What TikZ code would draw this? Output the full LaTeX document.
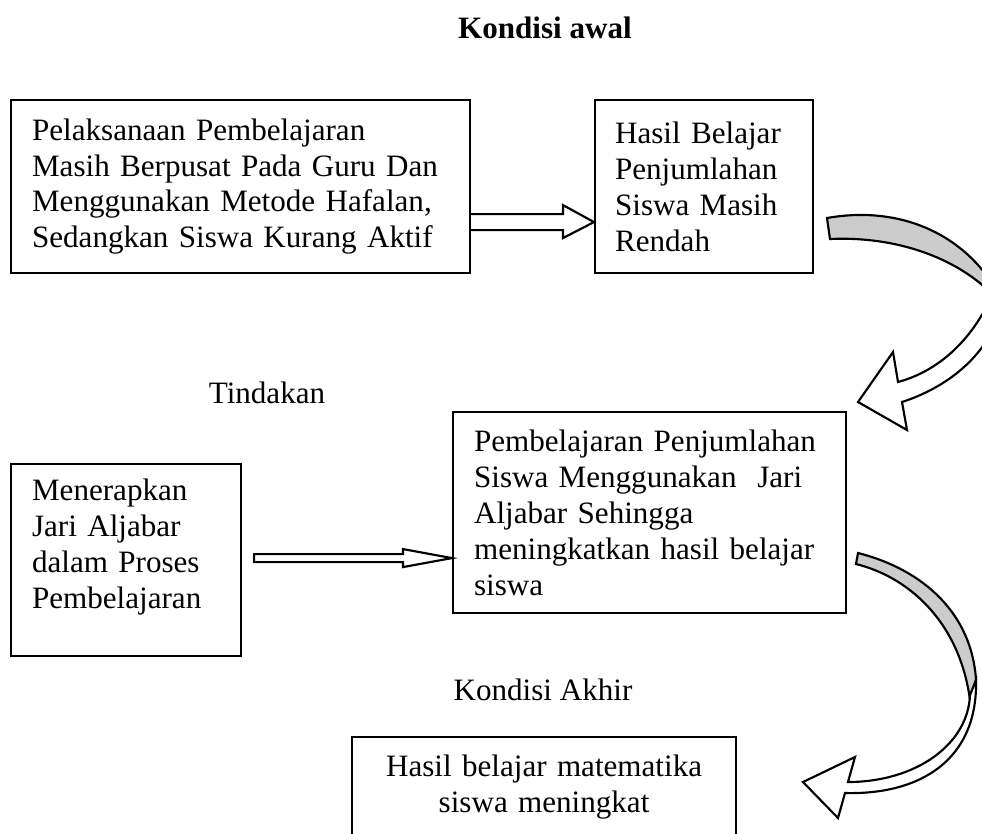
\documentclass[tikz,border=0pt]{standalone}
\usepackage{fontspec}
\setmainfont{Liberation Serif}
\usetikzlibrary{calc}
\usetikzlibrary{positioning}
\hyphenpenalty=10000
\newdimen\px
\px=0.3731pt
\tikzset{
  box/.style={draw, line width=0.8pt, anchor=north west, align=left,
    inner xsep=21\px, inner ysep=0pt,
    font=\fontsize{11.6pt}{13.4pt}\selectfont},
  heading/.style={font=\fontsize{11.6pt}{13.4pt}\selectfont},
  blockarrow/.style={draw, line width=0.8pt, fill=white, line join=miter},
  twistback/.style={draw, line width=0.8pt, fill=gray!40},
}

\begin{document}
\begin{tikzpicture}[x=0.3731pt, y=-0.3731pt]
  \useasboundingbox (0,0) rectangle (982,833);
  \clip (0,0) rectangle (982,833);
  % titles
  \node[heading, font=\fontsize{11.6pt}{13.4pt}\selectfont\bfseries] (awal) at (545,28) {Kondisi awal};
  \node[heading] (tindakan) at (267,393) {Tindakan};
  \node[heading] (akhir) at (543,690) {Kondisi Akhir};
  % boxes
  \node[box, text width=417\px, minimum height=173\px] (pelaksanaan) at (10,99)
    {Pelaksanaan Pembelajaran\\ Masih Berpusat Pada Guru Dan\\ Menggunakan Metode Hafalan,\\ Sedangkan Siswa Kurang Aktif};
  \node[box, inner xsep=20\px, text width=178\px, minimum height=173\px] (rendah) at (594,99)
    {Hasil Belajar\\ Penjumlahan\\ Siswa Masih\\ Rendah};
  \node[box, text width=188\px, minimum height=192\px] (menerapkan) at (10,463)
    {Menerapkan\\ Jari Aljabar\\ dalam Proses\\ Pembelajaran\\[-5pt]\strut};
  \node[box, text width=351\px, minimum height=201\px] (jari) at (452,411)
    {Pembelajaran Penjumlahan\\ Siswa Menggunakan~ Jari\\ Aljabar Sehingga\\ meningkatkan hasil belajar\\ siswa};
  \node[box, align=center, text width=342\px, minimum height=100\px] (meningkat) at (351,736)
    {Hasil belajar matematika\\ siswa meningkat};
  % straight block arrows
  \coordinate (t1) at ($(pelaksanaan.east)+(0,35.5)$);
  \coordinate (h1) at ($(rendah.west)+(0,35.5)$);
  \draw[blockarrow] ($(t1)+(0,-8)$) -- ($(h1)+(-31,-8)$) -- ($(h1)+(-31,-17)$) -- (h1)
    -- ($(h1)+(-31,16)$) -- ($(h1)+(-31,8)$) -- ($(t1)+(0,8)$);
  \coordinate (t2) at ($(menerapkan.east)+(12,-2)$);
  \coordinate (h2) at ($(jari.west)+(0,45.5)$);
  \draw[blockarrow] ($(t2)+(0,-4)$) -- ($(h2)+(-49,-4)$) -- ($(h2)+(-49,-9)$) -- (h2)
    -- ($(h2)+(-49,9)$) -- ($(h2)+(-49,4)$) -- ($(t2)+(0,4)$) -- cycle;
  % curved arrow, rendah to jari
  \draw[twistback] (827,218) .. controls (895,206) and (955,230) .. (990,280)
    -- (990,292) .. controls (955,258) and (897,236) .. (830,239) -- cycle;
  \draw[blockarrow] (990,300) .. controls (968,345) and (935,372) .. (898,382)
    -- (893,352) -- (858,402) -- (907,430) -- (902,402)
    .. controls (945,388) and (975,362) .. (990,335);
  % curved arrow, jari to meningkat
  \draw[twistback] (858,553) .. controls (925,570) and (972,615) .. (976,680)
    -- (970,700) .. controls (960,625) and (912,578) .. (856,564) -- cycle;
  \draw[blockarrow] (970,695) .. controls (968,745) and (915,782) .. (848,782)
    -- (855,757) -- (803,782) -- (838,818) -- (845,793)
    .. controls (920,795) and (978,760) .. (976,680) -- cycle;
\end{tikzpicture}
\end{document}
